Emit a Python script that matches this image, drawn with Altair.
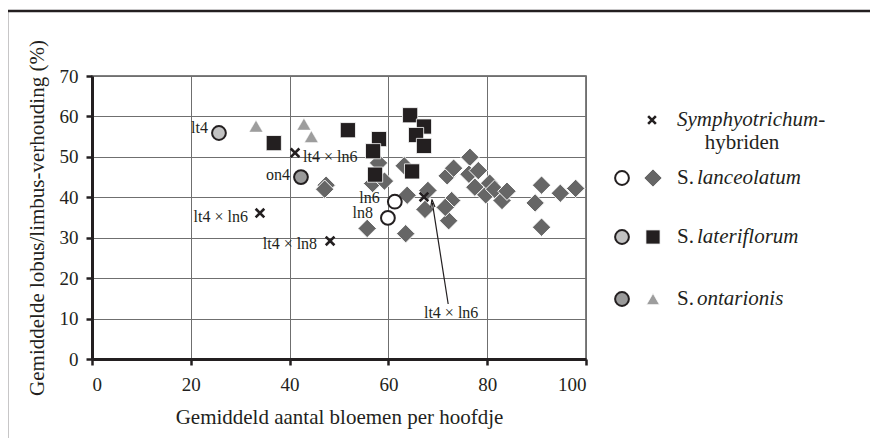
import altair as alt
import pandas as pd

# ---------------- data ----------------
lanc_x = [47.4, 47.1, 58.0, 56.8, 59.2, 55.7, 63.2, 63.8, 63.5, 68.0, 67.4, 71.9, 73.2, 72.8, 72.2, 71.5,
          76.5, 76.3, 78.2, 77.5, 79.7, 80.5, 81.5, 83.0, 84.0, 89.7, 91.0, 91.0, 94.8, 97.9]
lanc_y = [43.0, 42.0, 48.5, 43.4, 44.0, 32.3, 47.8, 40.5, 31.0, 41.7, 37.0, 45.3, 47.2, 39.2, 34.2, 37.5,
          49.9, 45.7, 46.6, 42.5, 40.6, 43.5, 42.0, 39.2, 41.5, 38.6, 43.0, 32.6, 41.0, 42.2]

lat_x = [36.8, 51.8, 58.1, 56.9, 57.3, 64.4, 67.2, 65.6, 67.2, 64.8]
lat_y = [53.4, 56.6, 54.4, 51.4, 45.6, 60.3, 57.5, 55.4, 52.7, 46.4]

ont_x = [33.2, 42.9, 44.4]
ont_y = [57.6, 58.1, 55.0]

parent_names = ["lt4", "on4", "ln6", "ln8"]
parent_x = [25.7, 42.3, 61.3, 59.9]
parent_y = [55.9, 45.0, 38.9, 34.9]
parent_group = ["lateriflorum", "ontarionis", "lanceolatum", "lanceolatum"]

hyb_names = ["lt4 × ln6", "lt4 × ln6", "lt4 × ln8", "lt4 × ln6"]
hyb_x = [41.1, 34.0, 48.2, 67.2]
hyb_y = [51.0, 36.1, 29.2, 40.1]

# annotation with arrow for the 4th hybrid
arrow_label = "lt4 × ln6"
arrow_from = (72.1, 13.6)
arrow_to = (68.9, 38.6)
arrow_label_pos = (72.7, 11.4)

group_order = ["lanceolatum", "lateriflorum", "ontarionis"]
circle_fill = ["#ffffff", "#c2c2c2", "#9a9a9a"]

# ---------------- styles ----------------
SERIF = "Liberation Serif"
X_SC = alt.Scale(domain=[0, 100], nice=False)
Y_SC = alt.Scale(domain=[0, 70], nice=False)

lanc = pd.DataFrame({"x": lanc_x, "y": lanc_y})
lat = pd.DataFrame({"x": lat_x, "y": lat_y})
ont = pd.DataFrame({"x": ont_x, "y": ont_y})
par = pd.DataFrame({"name": parent_names, "x": parent_x, "y": parent_y, "g": parent_group})
hyb = pd.DataFrame({"name": hyb_names, "x": hyb_x, "y": hyb_y})
one = pd.DataFrame({"a": [0]})

xenc = alt.X("x:Q", scale=X_SC,
             axis=alt.Axis(values=[0, 20, 40, 60, 80, 100], title="Gemiddeld aantal bloemen per hoofdje"))
yenc = alt.Y("y:Q", scale=Y_SC,
             axis=alt.Axis(values=[0, 10, 20, 30, 40, 50, 60, 70],
                           title="Gemiddelde lobus/limbus-verhouding (%)"))

XSHAPE = "M-1,-1L1,1M-1,1L1,-1"

frame = alt.Chart(one).mark_rect(fill=None, stroke="#231f20", strokeWidth=2.5).encode(
    x=alt.value(-85), x2=alt.value(900), y=alt.value(-65), y2=alt.value(600))

diam = alt.Chart(lanc).mark_point(shape="diamond", filled=True, fill="#666666", fillOpacity=1,
                                  stroke="white", strokeWidth=1, size=340, opacity=1).encode(x=xenc, y=yenc)
sq = alt.Chart(lat).mark_point(shape="square", filled=True, fill="#231f20", fillOpacity=1,
                               stroke="white", strokeWidth=0.8, size=230, opacity=1).encode(x="x:Q", y="y:Q")
tri = alt.Chart(ont).mark_point(shape="triangle-up", filled=True, fill="#9d9d9d", fillOpacity=1,
                                stroke="white", strokeWidth=0.5, size=190, opacity=1).encode(x="x:Q", y="y:Q")
circ = alt.Chart(par).mark_point(shape="circle", filled=True, stroke="#231f20", strokeWidth=2,
                                 size=190, opacity=1, fillOpacity=1).encode(
    x="x:Q", y="y:Q",
    fill=alt.Fill("g:N", scale=alt.Scale(domain=group_order, range=circle_fill), legend=None))
cross = alt.Chart(hyb).mark_point(shape=XSHAPE, stroke="#231f20", strokeWidth=2.6, size=75,
                                  opacity=1).encode(x="x:Q", y="y:Q")

lab_style = dict(font=SERIF, fontSize=16, color="#231f20")
par_lab = [
    alt.Chart(par[par.name == n]).mark_text(align="right", dx=dx, dy=dy, **lab_style).encode(
        x="x:Q", y="y:Q", text="name:N")
    for n, dx, dy in [("lt4", -11, -5), ("on4", -11, -2), ("ln6", -15, -4), ("ln8", -15, -5)]
]
hyb_lab = [
    alt.Chart(hyb.iloc[[0]]).mark_text(align="left", dx=8, dy=4, **lab_style).encode(
        x="x:Q", y="y:Q", text="name:N"),
    alt.Chart(hyb.iloc[[1]]).mark_text(align="right", dx=-12, dy=4, **lab_style).encode(
        x="x:Q", y="y:Q", text="name:N"),
    alt.Chart(hyb.iloc[[2]]).mark_text(align="right", dx=-13, dy=3, **lab_style).encode(
        x="x:Q", y="y:Q", text="name:N"),
]
arr_df = pd.DataFrame({"x": [arrow_from[0]], "y": [arrow_from[1]],
                       "x2": [arrow_to[0]], "y2": [arrow_to[1]]})
arrow = alt.Chart(arr_df).mark_rule(color="#231f20", strokeWidth=1.2).encode(
    x="x:Q", y="y:Q", x2="x2:Q", y2="y2:Q")
head = alt.Chart(pd.DataFrame({"x": [arrow_to[0]], "y": [arrow_to[1]]})).mark_point(
    shape="M0,-1L0.6,1.2M0,-1L-0.6,1.2", stroke="#231f20", strokeWidth=1.2, size=50, angle=353,
    opacity=1).encode(x="x:Q", y="y:Q")
arr_lab = alt.Chart(pd.DataFrame({"x": [arrow_label_pos[0]], "y": [arrow_label_pos[1]],
                                  "t": [arrow_label]})).mark_text(align="center", **lab_style).encode(
    x="x:Q", y="y:Q", text="t:N")

# ---------------- legend (drawn) ----------------
leg_font = dict(font=SERIF, fontSize=21, color="#231f20", baseline="middle")
legend = [
    alt.Chart(one).mark_point(shape=XSHAPE, stroke="#231f20", strokeWidth=2.6, size=60, opacity=1).encode(
        x=alt.value(560), y=alt.value(44)),
    alt.Chart(one).mark_text(align="left", fontStyle="italic", **leg_font).encode(
        x=alt.value(585), y=alt.value(44), text=alt.value("Symphyotrichum-")),
    alt.Chart(one).mark_text(align="center", **leg_font).encode(
        x=alt.value(650), y=alt.value(67), text=alt.value("hybriden")),
]
rows = [("lanceolatum", 102, "diamond", "#666666", 330),
        ("lateriflorum", 161, "square", "#231f20", 200),
        ("ontarionis", 223, "triangle-up", "#9d9d9d", 170)]
for (g, yy, shp, col, sz), cf in zip(rows, circle_fill):
    legend += [
        alt.Chart(one).mark_point(shape="circle", filled=True, fill=cf, fillOpacity=1, stroke="#231f20",
                                  strokeWidth=2, size=190, opacity=1).encode(x=alt.value(530), y=alt.value(yy)),
        alt.Chart(one).mark_point(shape=shp, filled=True, fill=col, fillOpacity=1, stroke="white",
                                  strokeWidth=0.8, size=sz, opacity=1).encode(x=alt.value(561), y=alt.value(yy)),
        alt.Chart(one).mark_text(align="left", **leg_font).encode(
            x=alt.value(585), y=alt.value(yy), text=alt.value("S.")),
        alt.Chart(one).mark_text(align="left", fontStyle="italic", **leg_font).encode(
            x=alt.value(605), y=alt.value(yy), text=alt.value(g)),
    ]

chart = alt.layer(frame, diam, sq, tri, circ, cross, *par_lab, *hyb_lab, arrow, head, arr_lab,
                  *legend).properties(
    width=494, height=283,
    autosize=alt.AutoSizeParams(type="none"),
    padding={"left": 84, "top": 68, "right": 284, "bottom": 79},
).configure_view(stroke="#555555", strokeWidth=1.5).configure_axis(
    labelFont=SERIF, labelFontSize=19, labelColor="#231f20",
    titleFont=SERIF, titleFontSize=21, titleFontWeight="normal", titleColor="#231f20",
    domainColor="#231f20", domainWidth=3, tickColor="#231f20", tickWidth=2.5, tickSize=6,
    gridColor="#6f6f6f", gridWidth=1,
).configure_axisX(labelPadding=10, titlePadding=12).configure_axisY(labelPadding=8, titlePadding=12)

chart.save("out.html", embed_options={"renderer": "svg", "actions": False})
